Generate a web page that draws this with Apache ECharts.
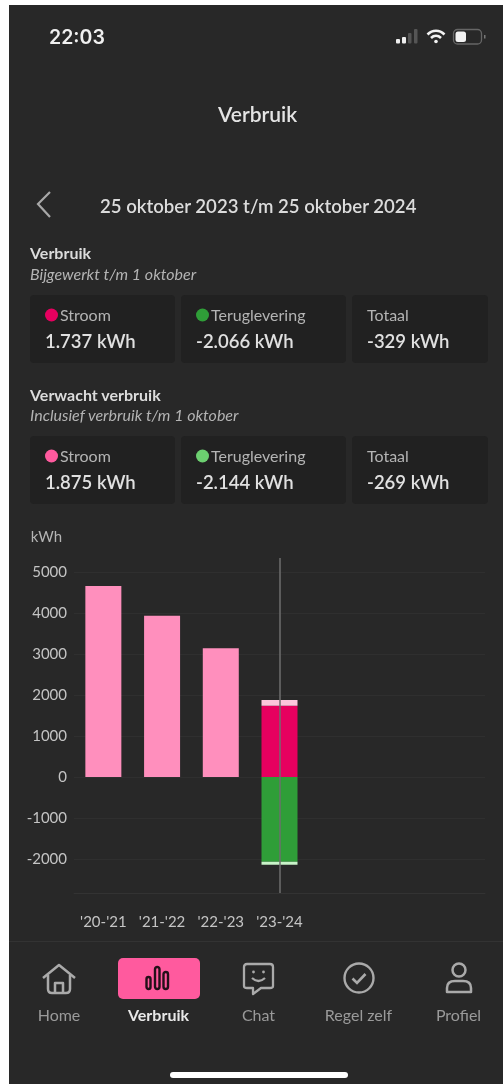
<!DOCTYPE html>
<html>
<head>
<meta charset="utf-8">
<title>Verbruik</title>
<script src="https://cdn.jsdelivr.net/npm/echarts@6/dist/echarts.min.js"></script>
<style>
  html, body { margin: 0; padding: 0; background: #fff; }
  body { width: 503px; height: 1084px; overflow: hidden; position: relative; font-family: Lato, sans-serif; }
  #screen { position: absolute; left: 9px; top: 5px; width: 494px; height: 1079px; background: #282828; }
  #main { position: absolute; left: 0; top: 0; width: 503px; height: 1084px; }
  .t { position: absolute; white-space: nowrap; line-height: 1; transform: translateY(-50%); }
  .card { position: absolute; background: #212121; border-radius: 4px; }
  .dot { position: absolute; width: 13px; height: 13px; border-radius: 50%; transform: translateY(-50%); }
  svg { position: absolute; overflow: visible; }
</style>
</head>
<body>
<div id="screen"></div>
<div id="main"></div>
<div id="ui"></div>

<svg style="left:396px;top:29px" width="24" height="16"><g fill="#eee"><rect x="0" y="10" width="4" height="4.5" rx="1"/><rect x="6" y="8" width="4" height="6.5" rx="1"/></g><g fill="#555"><rect x="12" y="4" width="3.5" height="10.5" rx="1"/><rect x="18" y="0" width="3.5" height="14.5" rx="1"/></g></svg>
<svg style="left:426px;top:28px" width="20" height="16" fill="none" stroke="#f2f2f2" stroke-width="2.6"><path d="M1.5 6.5C6.5 1.5 13.5 1.5 18.5 6.5"/><path d="M5 10C8 7.2 12 7.2 15 10"/><circle cx="10" cy="13.5" r="1.8" fill="#f2f2f2" stroke="none"/></svg>
<svg style="left:453px;top:29px" width="33" height="16"><rect x="0.5" y="0.5" width="28" height="14.5" rx="4" fill="none" stroke="#666" stroke-width="1.3"/><rect x="2.5" y="2.5" width="10.5" height="10.5" rx="2.5" fill="#f2f2f2"/><rect x="31" y="6" width="1.5" height="3.5" fill="#777"/></svg>
<svg style="left:36px;top:191px" width="16" height="27" fill="none" stroke="#a8a8a8" stroke-width="2.2"><path d="M14 1L2 13L14 26"/></svg>

<!-- tab bar -->
<div style="position:absolute;left:9px;top:941px;width:494px;height:1px;background:#333"></div>
<div style="position:absolute;left:118px;top:958px;width:82px;height:41px;border-radius:5px;background:#ff5a9e"></div>
<svg style="left:42px;top:963px" width="34" height="32" fill="none" stroke="#aaa" stroke-width="2.5" stroke-linejoin="round"><path d="M1 15L17 2L33 15"/><path d="M6 12V26Q6 30 10 30H24Q28 30 28 26V12"/><path d="M13 30V20H21V30"/></svg>
<svg style="left:145px;top:965px" width="30" height="26" fill="none" stroke="#241019" stroke-width="2.4"><rect x="1.5" y="12" width="4" height="12" rx="2"/><rect x="10" y="2" width="4.5" height="22" rx="2.2"/><rect x="18.5" y="7" width="4.5" height="17" rx="2.2"/></svg>
<svg style="left:243px;top:963px" width="32" height="32" fill="none" stroke="#aaa" stroke-width="2.3" stroke-linejoin="round"><path d="M4 1H27Q30 1 30 4V23Q30 25 27 25H18L10 31V25H4Q1 25 1 23V4Q1 1 4 1Z"/><path d="M9 15Q15.5 21 22 15"/><circle cx="10.5" cy="9" r="1.4" fill="#aaa" stroke="none"/><circle cx="20.5" cy="9" r="1.4" fill="#aaa" stroke="none"/></svg>
<svg style="left:343px;top:962px" width="32" height="32" fill="none" stroke="#aaa" stroke-width="2.4"><circle cx="16" cy="16" r="14.5"/><path d="M9.5 16.5L14 21L22.5 12" stroke-width="2.6"/></svg>
<svg style="left:445px;top:962px" width="28" height="32" fill="none" stroke="#aaa" stroke-width="2.5" stroke-linejoin="round"><circle cx="14" cy="8" r="6.5"/><path d="M2 30V26Q2 19 10 19H18Q26 19 26 26V30Z"/></svg>
<div style="position:absolute;left:170px;top:1072px;width:178px;height:6px;border-radius:3px;background:#fff"></div>

<script>
var categories = ["'20-'21", "'21-'22", "'22-'23", "'23-'24", "", "", ""];
var yTicks = [-2000, -1000, 0, 1000, 2000, 3000, 4000, 5000];

// kWh per jaar
var eerdereJaren = [4660, 3930, 3140, null, null, null, null];
var stroom = [null, null, null, 1737, null, null, null];
var stroomVerwacht = [null, null, null, 138, null, null, null];
var terug = [null, null, null, -2066, null, null, null];
var terugVerwacht = [null, null, null, -78, null, null, null];

var cardLabels = ['Stroom', 'Teruglevering', 'Totaal'];
var cardsVerbruik = ['1.737 kWh', '-2.066 kWh', '-329 kWh'];
var cardsVerwacht = ['1.875 kWh', '-2.144 kWh', '-269 kWh'];
var tabs = ['Home', 'Verbruik', 'Chat', 'Regel zelf', 'Profiel'];

var ui = document.getElementById('ui');

function text(str, x, y, style) {
    var el = document.createElement('div');
    el.className = 't';
    el.textContent = str;
    el.style.left = x + 'px';
    el.style.top = y + 'px';
    el.style.cssText += style;
    ui.appendChild(el);
    return el;
}

function cards(top, values, dots) {
    var lefts = [30, 181, 352];
    var widths = [145, 165, 136];
    var textX = [45, 196, 367];
    values.forEach(function (value, i) {
        var card = document.createElement('div');
        card.className = 'card';
        card.style.cssText = 'left:' + lefts[i] + 'px;top:' + top + 'px;width:' + widths[i] + 'px;height:68px';
        ui.appendChild(card);
        if (dots[i]) {
            var dot = document.createElement('div');
            dot.className = 'dot';
            dot.style.cssText = 'left:' + textX[i] + 'px;top:' + (top + 20) + 'px;background:' + dots[i];
            ui.appendChild(dot);
        }
        text(cardLabels[i], dots[i] ? textX[i] + 15 : textX[i], top + 20, 'font-size:16px;color:#b4b4b4');
        text(value, textX[i], top + 46, 'font-size:18.5px;font-weight:600;color:#e0e0e0');
    });
}

text('22:03', 49, 38, 'font-family:Inter;font-size:19.5px;font-weight:600;color:#f0f0f0');
text('Verbruik', 218, 113, 'font-size:21px;font-weight:600;color:#e4e4e4');
text('25 oktober 2023 t/m 25 oktober 2024', 100, 206, 'font-size:18.6px;font-weight:600;color:#dcdcdc');
text('Verbruik', 30, 253, 'font-size:16px;font-weight:700;color:#dcdcdc');
text('Bijgewerkt t/m 1 oktober', 30, 274, 'font-size:16px;font-style:italic;color:#b4b4b4');
cards(295, cardsVerbruik, ['#e6005f', '#2f9e38', null]);
text('Verwacht verbruik', 30, 395, 'font-size:16px;font-weight:700;color:#dcdcdc');
text('Inclusief verbruik t/m 1 oktober', 30, 415, 'font-size:16px;font-style:italic;color:#b4b4b4');
cards(436, cardsVerwacht, ['#ff5a9e', '#6ccf70', null]);

var tabX = [59, 158.5, 258.5, 358.5, 458.5];
tabs.forEach(function (tab, i) {
    var el = text(tab, tabX[i], 1015, 'font-size:16px;color:#9a9a9a');
    el.style.transform = 'translate(-50%,-50%)';
    if (i === 1) {
        el.style.color = '#e8e8e8';
        el.style.fontWeight = '700';
    }
});

var myChart = echarts.init(document.getElementById('main'), null, { renderer: 'canvas' });

function barSeries(name, data, color, extra) {
    return Object.assign({
        name: name,
        type: 'bar',
        stack: 'kwh',
        data: data,
        barWidth: 36,
        itemStyle: { color: color },
        silent: true
    }, extra || {});
}

myChart.setOption({
    backgroundColor: 'transparent',
    animation: false,
    textStyle: { fontFamily: 'Lato' },
    grid: { left: 74, right: 18, top: 558, bottom: 191, containLabel: false },
    xAxis: {
        type: 'category',
        data: categories,
        axisLine: { onZero: false, lineStyle: { color: '#333' } },
        axisTick: { show: false },
        axisLabel: { color: '#c4c4c4', fontSize: 15, margin: 22, interval: 0 }
    },
    yAxis: {
        type: 'value',
        min: -2830,
        max: 5340,
        name: 'kWh',
        nameGap: 13,
        nameTextStyle: { color: '#b4b4b4', fontSize: 15, align: 'right', padding: [0, 12, 0, 0] },
        axisLine: { show: false },
        axisTick: { show: false, customValues: yTicks },
        axisLabel: {
            color: '#c4c4c4',
            fontSize: 15,
            margin: 7,
            customValues: yTicks,
            formatter: function (value) { return String(value); }
        },
        splitLine: { lineStyle: { color: '#2f2f2f' } }
    },
    series: [
        barSeries('Eerdere jaren', eerdereJaren, '#ff8fbd'),
        barSeries('Stroom', stroom, '#e6005f', {
            markLine: {
                silent: true,
                symbol: 'none',
                label: { show: false },
                lineStyle: { color: '#6e6e6e', width: 1.5, type: 'solid' },
                data: [{ xAxis: categories[3] }]
            }
        }),
        barSeries('Stroom verwacht', stroomVerwacht, '#fcc6dc'),
        barSeries('Teruglevering', terug, '#2f9e38'),
        barSeries('Teruglevering verwacht', terugVerwacht, '#c9f3c9')
    ]
});
</script>
</body>
</html>
